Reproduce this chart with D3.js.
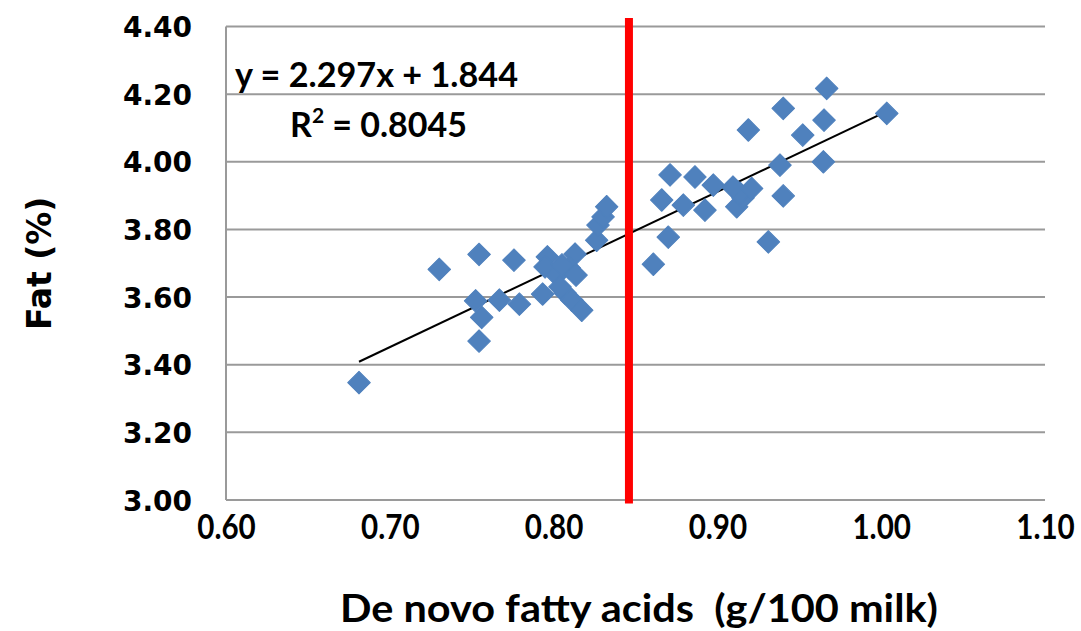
<!DOCTYPE html>
<html><head><meta charset="utf-8">
<script src="https://cdn.jsdelivr.net/npm/d3@7"></script>
<style>
html,body{margin:0;padding:0;background:#fff;}
svg{display:block;}
text{white-space:pre;}
</style></head>
<body>
<svg id="chart" width="1081" height="631"></svg>
<script>
// ---- data ----
const deNovoX = [0.6812,0.7302,0.7545,0.7524,0.7561,0.7545,0.7669,0.7758,0.7791,0.7933,
  0.7962,0.7948,0.8019,0.8070,0.8111,0.8172,0.8131,0.8096,0.8137,0.8039,0.8051,
  0.8263,0.8271,0.8302,0.8324,
  0.8609,0.8660,0.8711,0.8700,0.8792,0.8863,0.8924,0.8975,0.9118,0.9156,0.9138,0.9095,
  0.9209,0.9189,0.9311,0.9382,0.9402,0.9402,0.9521,0.9647,0.9651,0.9667,1.0034];
const fatY = [3.347,3.682,3.726,3.589,3.540,3.470,3.591,3.709,3.579,3.609,
  3.719,3.689,3.665,3.612,3.591,3.561,3.727,3.686,3.665,3.630,3.695,
  3.768,3.813,3.837,3.867,
  3.697,3.887,3.961,3.777,3.872,3.955,3.857,3.931,3.867,3.893,3.907,3.925,
  3.921,4.094,3.763,3.990,3.899,4.158,4.079,4.000,4.123,4.217,4.143];
const xTicks = [0.60,0.70,0.80,0.90,1.00,1.10];
const yTicks = [3.00,3.20,3.40,3.60,3.80,4.00,4.20,4.40];
const trendSlope = 2.297, trendIntercept = 1.844;
const equationText = "y = 2.297x + 1.844";
const r2Value = "0.8045";
const thresholdX = [0.846];
const thresholdYExtent = [2.99, 4.425];
const xTitle = "De novo fatty acids  (g/100 milk)";
const yTitle = "Fat (%)";

const points = deNovoX.map((x,i)=>({x, y: fatY[i]}));

const svg = d3.select("#chart");
const x = d3.scaleLinear().domain([0.6,1.1]).range([226,1045]);
const y = d3.scaleLinear().domain([3.0,4.4]).range([500,26.5]);

// gridlines
svg.append("g").selectAll("line").data(yTicks).join("line")
  .attr("x1", x(0.6)).attr("x2", x(1.1))
  .attr("y1", d=>y(d)).attr("y2", d=>y(d))
  .attr("stroke", "#9a9a9a").attr("stroke-width", 2);
// left axis line
svg.append("line").attr("x1", x(0.6)).attr("x2", x(0.6))
  .attr("y1", y(4.4)).attr("y2", y(3.0))
  .attr("stroke", "#9a9a9a").attr("stroke-width", 2);

// y tick labels
const yAxis = d3.axisLeft(y).tickValues(yTicks).tickFormat(d3.format(".2f")).tickSize(0).tickPadding(0);
const gy = svg.append("g").attr("transform", `translate(${x(0.6)-34},0)`).call(yAxis);
gy.select(".domain").remove();
gy.selectAll("text").attr("font-family","DejaVu Sans").attr("font-weight","bold")
  .attr("font-size", 28).attr("fill","#000").attr("dy","0.36em");

// x tick labels
const xAxis = d3.axisBottom(x).tickValues(xTicks).tickFormat(d3.format(".2f")).tickSize(0).tickPadding(0);
const gx = svg.append("g").attr("transform", `translate(0,${y(3.0)+39})`).call(xAxis);
gx.select(".domain").remove();
gx.selectAll("text").attr("font-family","Lato").attr("font-weight","bold")
  .attr("font-size", 34).attr("fill","#000").attr("dy","0")
  .attr("transform","scale(0.87,1)");

// trendline
const xExt = d3.extent(deNovoX);
svg.append("line")
  .attr("x1", x(xExt[0])).attr("y1", y(trendSlope*xExt[0]+trendIntercept))
  .attr("x2", x(xExt[1])).attr("y2", y(trendSlope*xExt[1]+trendIntercept))
  .attr("stroke","#000").attr("stroke-width",2);

// points
const sym = d3.symbol().type(d3.symbolSquare).size(255);
svg.append("g").selectAll("path").data(points).join("path")
  .attr("d", sym)
  .attr("transform", d=>`translate(${x(d.x)},${y(d.y)}) rotate(45)`)
  .attr("fill","#4f81bd")
  .attr("stroke","#4f81bd").attr("stroke-width",1).attr("stroke-linejoin","round");

// red threshold line
svg.append("g").selectAll("line").data(thresholdX).join("line")
  .attr("x1", d=>x(d)).attr("x2", d=>x(d))
  .attr("y1", y(thresholdYExtent[1])).attr("y2", y(thresholdYExtent[0]))
  .attr("stroke","#ff0000").attr("stroke-width",8);

// equation
svg.append("text").attr("x", 235).attr("y", 87)
  .attr("font-family","Lato").attr("font-weight","bold").attr("font-size",34)
  .attr("textLength", 283).attr("lengthAdjust","spacingAndGlyphs")
  .text(equationText);
const r2 = svg.append("text").attr("x", 290).attr("y", 137)
  .attr("font-family","Lato").attr("font-weight","bold").attr("font-size",34);
r2.append("tspan").text("R");
r2.append("tspan").attr("font-size",21).attr("dy",-14).text("2");
r2.append("tspan").attr("dy",14).text(" = " + r2Value);

// axis titles
svg.append("text").attr("x", 340).attr("y", 622)
  .attr("font-family","Lato").attr("font-weight","bold").attr("font-size",39)
  .attr("textLength", 598).attr("lengthAdjust","spacingAndGlyphs")
  .text(xTitle);
svg.append("text").attr("transform", `translate(51,${(y(3.0)+y(4.4))/2}) rotate(-90)`)
  .attr("text-anchor","middle")
  .attr("font-family","DejaVu Sans").attr("font-weight","bold").attr("font-size",33)
  .text(yTitle);
</script>
</body></html>
